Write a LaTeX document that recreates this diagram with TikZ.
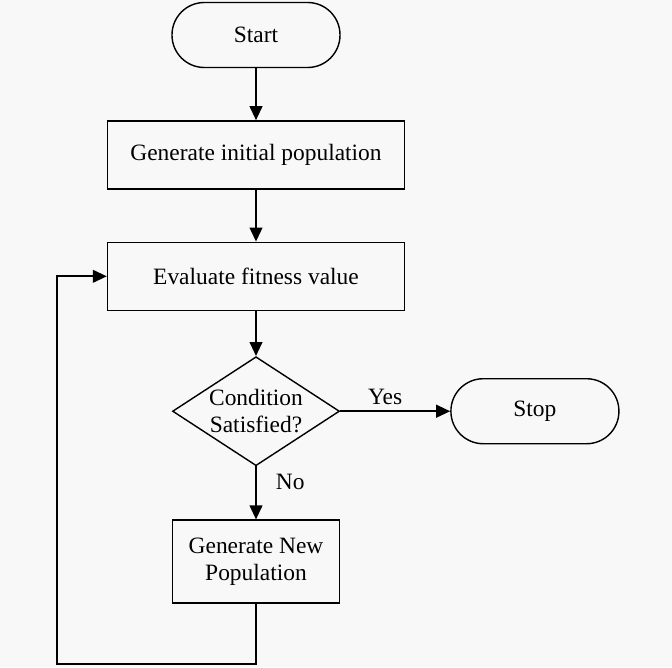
\documentclass[tikz,border=0pt]{standalone}
\usepackage{fontspec}
\setmainfont{Liberation Serif}
\usetikzlibrary{shapes.geometric, arrows.meta, positioning}
\definecolor{PaperGrey}{RGB}{248,248,248}

\begin{document}
\begin{tikzpicture}[
          node distance=1.56cm,
          terminal/.style={rectangle, draw, rounded corners=0.97cm, minimum width=5.04cm, minimum height=1.95cm, line width=1.2pt, font=\fontsize{20}{23}\selectfont},
          process/.style={rectangle, draw, minimum width=8.91cm, minimum height=2.04cm, line width=1.2pt, font=\fontsize{20}{23}\selectfont},
          decision/.style={diamond, draw, minimum width=5.01cm, minimum height=3.27cm, inner sep=-1cm, align=center, line width=1.2pt, font=\fontsize{20}{23}\selectfont},
          arrow/.style={-{Triangle[length=0.42cm, width=0.38cm]}, line width=1.7pt},
          label/.style={font=\fontsize{20}{23}\selectfont}
        ]
          \fill [PaperGrey] (0,0) rectangle (20.16,-20.01);
          \useasboundingbox (0,0) rectangle (20.16,-20.01);

          \node (start) [terminal] at (7.68,-1.05) {Start};
          \node (init) [process, below=of start] {Generate initial population};
          \node (evaluate) [process, below=of init] {Evaluate fitness value};
          \node (check) [decision, below=1.35cm of evaluate] {Condition\\Satisfied?};
          \node (stop) [terminal, right=3.3cm of check] {Stop};
          \node (newpop) [process, minimum width=5.01cm, minimum height=2.49cm, align=center, below=1.59cm of check] {Generate New\\Population};

          \coordinate (loopbottom) at (1.71,-19.92);

          \draw [arrow] (start) -- (init);
          \draw [arrow] (init) -- (evaluate);
          \draw [arrow] (evaluate) -- (check);
          \draw [arrow] (check) -- node[label, above=0.05cm, xshift=-0.3cm] {Yes} (stop);
          \draw [arrow] (check) -- node[label, right=0.45cm, pos=0.3] {No} (newpop);
          \draw [arrow] (newpop.south) |- (loopbottom) |- (evaluate.west);
        \end{tikzpicture}
\end{document}
